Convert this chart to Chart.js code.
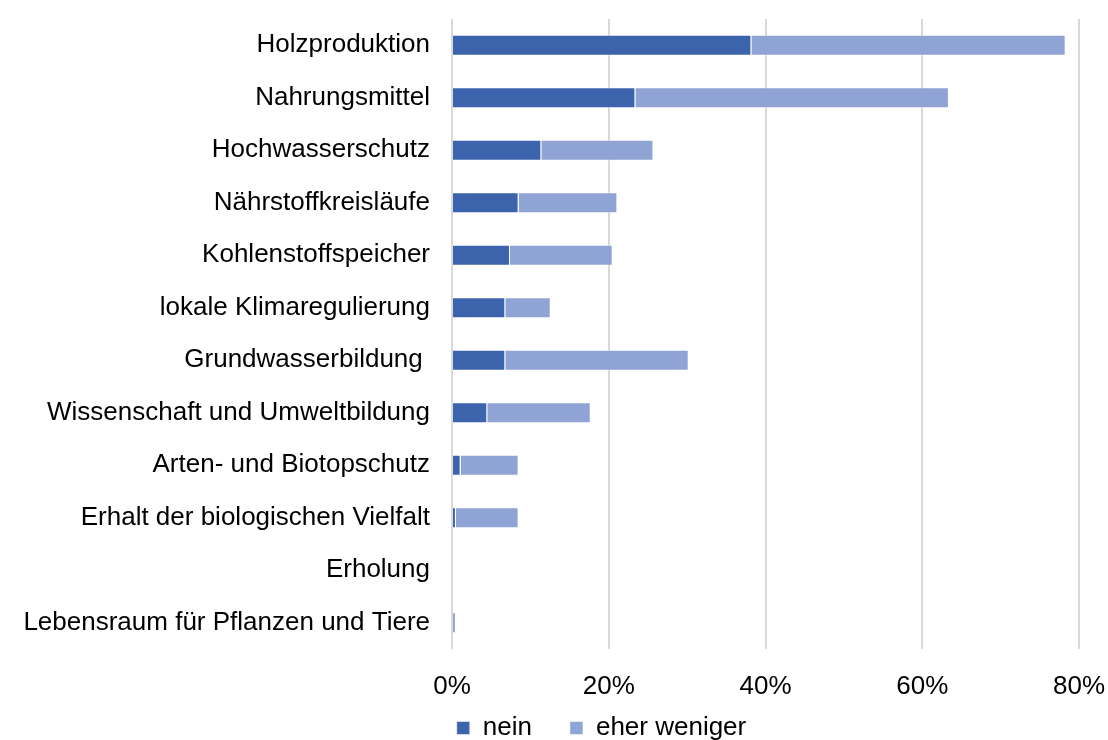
<!DOCTYPE html>
<html><head><meta charset="utf-8">
<script src="https://cdn.jsdelivr.net/npm/chart.js@4.4.0/dist/chart.umd.min.js"></script>
<style>html,body{margin:0;padding:0;background:#fff}#wrap{width:1108px;height:740px}</style>
</head><body><div id="wrap"><canvas id="c" width="1108" height="740"></canvas></div>
<script>
const categories = ["Holzproduktion","Nahrungsmittel","Hochwasserschutz","Nährstoffkreisläufe","Kohlenstoffspeicher","lokale Klimaregulierung","Grundwasserbildung ","Wissenschaft und Umweltbildung","Arten- und Biotopschutz","Erhalt der biologischen Vielfalt","Erholung","Lebensraum für Pflanzen und Tiere"];
const nein = [38.2, 23.4, 11.4, 8.5, 7.4, 6.8, 6.8, 4.5, 1.1, 0.5, 0, 0];
const eherWeniger = [40.1, 40.0, 14.3, 12.6, 13.1, 5.8, 23.4, 13.2, 7.4, 8.0, 0, 0.5];
const xTicks = [0, 20, 40, 60, 80];

Chart.defaults.font.family = "'Liberation Sans', Arial, sans-serif";
Chart.defaults.color = "#000";

const legendShift = {
  id: 'legendShift',
  afterLayout(chart) {
    const l = chart.legend;
    l.left += 62; l.right += 62;
    l.top -= 28; l.bottom -= 28;
  }
};

new Chart(document.getElementById('c'), {
  type: 'bar',
  data: {
    labels: categories,
    datasets: [
      {label: 'nein', data: nein, backgroundColor: '#3c64ac', borderColor: 'rgba(255,255,255,0.5)', borderWidth: 1, barPercentage: 0.8, categoryPercentage: 0.5},
      {label: 'eher weniger', data: eherWeniger, backgroundColor: '#8fa4d4', borderColor: 'rgba(255,255,255,0.5)', borderWidth: 1, barPercentage: 0.8, categoryPercentage: 0.5}
    ]
  },
  plugins: [legendShift],
  options: {
    indexAxis: 'y',
    responsive: false,
    animation: false,
    layout: {padding: {top: 19, right: 29, bottom: -39, left: 0}},
    plugins: {
      legend: {position: 'bottom', labels: {font: {size: 26}, boxWidth: 13, boxHeight: 13, padding: 38, color: '#000'}},
      tooltip: {enabled: false}
    },
    scales: {
      x: {
        stacked: true, min: 0, max: 80,
        afterBuildTicks: s => { s.ticks = xTicks.map(v => ({value: v})); },
        afterFit: s => { s.height = 56; s.paddingLeft = 0; s.paddingRight = 0; },
        ticks: {font: {size: 26}, padding: 22, callback: v => v + '%'},
        grid: {color: '#d9d9d9', lineWidth: 2, drawTicks: false},
        border: {display: false}
      },
      y: {
        stacked: true,
        afterFit: s => { s.width = 452; s.paddingTop = 0; s.paddingBottom = 0; },
        ticks: {font: {size: 26}, padding: 22},
        grid: {display: false, drawTicks: false},
        border: {display: false}
      }
    }
  }
});
</script></body></html>
